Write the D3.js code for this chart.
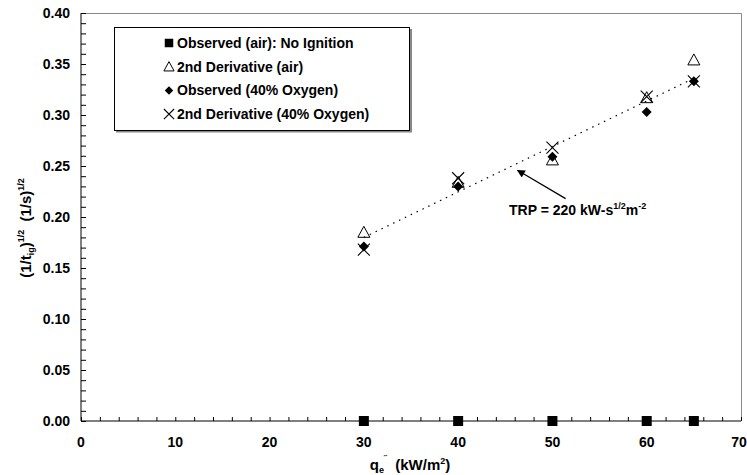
<!DOCTYPE html>
<html><head><meta charset="utf-8">
<script src="https://cdn.jsdelivr.net/npm/d3@7/dist/d3.min.js"></script>
<style>body{margin:0;background:#fff}svg{display:block;font-family:"Liberation Sans",Arial,sans-serif;font-weight:bold}</style>
</head><body><svg id="c" width="747" height="475"></svg>
<script>
const xTicks = [0,10,20,30,40,50,60,70];
const yTicks = [0,0.05,0.10,0.15,0.20,0.25,0.30,0.35,0.40];
const flux = [30,40,50,60,65];
const obsAir = [0,0,0,0,0];
const derivAir = [0.185,0.234,0.256,0.317,0.354];
const obsOx = [0.171,0.230,0.259,0.303,0.333];
const derivOx = [0.168,0.238,0.268,0.318,0.333];
const fitX = [30,65];
const fitY = [0.180,0.336];
const legendLabels = ["Observed (air): No Ignition","2nd Derivative (air)","Observed (40% Oxygen)","2nd Derivative (40% Oxygen)"];

const svg = d3.select("#c");
const m = {l:81,t:13,r:741,b:421};
const x = d3.scaleLinear().domain([0,70]).range([m.l,m.r]);
const y = d3.scaleLinear().domain([0,0.40]).range([m.b,m.t]);

// frame (gray top/right)
svg.append("path").attr("d",`M${m.l},${m.t+0.5}H${m.r+0.5}V${m.b}`).attr("fill","none").attr("stroke","#888").attr("stroke-width",1);

// y axis
const ya = svg.append("g").attr("transform",`translate(${m.l},0)`)
  .call(d3.axisRight(y).tickValues(d3.range(0,0.4001,0.01)).tickSize(5).tickFormat(""));
ya.select(".domain").remove();
ya.selectAll("line").attr("stroke","#000");
svg.append("line").attr("x1",m.l).attr("x2",m.l).attr("y1",m.t).attr("y2",m.b).attr("stroke","#000");
svg.append("g").selectAll("text").data(yTicks).join("text")
  .attr("x",m.l-11).attr("y",d=>y(d)).attr("dy","0.35em").attr("text-anchor","end")
  .attr("font-size",14).text(d=>d.toFixed(2));

// x axis
const xa = svg.append("g").attr("transform",`translate(0,${m.b})`)
  .call(d3.axisTop(x).tickValues(d3.range(0,70.01,2)).tickSize(4).tickFormat(""));
xa.select(".domain").remove();
xa.selectAll("line").attr("stroke","#000");
svg.append("line").attr("x1",m.l).attr("x2",m.r).attr("y1",m.b).attr("y2",m.b).attr("stroke","#000");
svg.append("g").selectAll("text").data(xTicks).join("text")
  .attr("x",d=>Math.min(x(d),739)).attr("y",m.b+26).attr("text-anchor","middle")
  .attr("font-size",14).text(d=>d);

// axis titles
const xt = svg.append("text").attr("x",410).attr("y",470).attr("text-anchor","middle").attr("font-size",15);
xt.append("tspan").text("q");
xt.append("tspan").attr("font-size",9).attr("dy",3).text("e");
xt.append("tspan").attr("font-size",9).attr("dy",-11).text("\u02DD");
xt.append("tspan").attr("dy",8).text("\u00A0\u00A0(kW/m");
xt.append("tspan").attr("font-size",9).attr("dy",-6).text("2");
xt.append("tspan").attr("dy",6).text(")");

const yt = svg.append("text").attr("transform","translate(31,228) rotate(-90)").attr("text-anchor","middle").attr("font-size",15);
yt.append("tspan").text("(1/t");
yt.append("tspan").attr("font-size",9).attr("dy",3).text("ig");
yt.append("tspan").attr("dy",-3).text(")");
yt.append("tspan").attr("font-size",9).attr("dy",-7).text("1/2");
yt.append("tspan").attr("dy",7).text("\u00A0\u00A0(1/s)");
yt.append("tspan").attr("font-size",9).attr("dy",-7).text("1/2");

// fit line
svg.append("line").attr("x1",x(fitX[0])).attr("y1",y(fitY[0])).attr("x2",x(fitX[1])).attr("y2",y(fitY[1]))
  .attr("stroke","#000").attr("stroke-width",1.2).attr("stroke-dasharray","1.5,5");

// marker helpers
function drawSym(g,type,cx,cy,s){
  s = s||1;
  if(type==="square"){g.append("rect").attr("x",cx-5*s).attr("y",cy-5*s).attr("width",10*s).attr("height",10*s).attr("fill","#000");}
  else if(type==="tri"){g.append("path").attr("d",`M${cx},${cy-6*s}L${cx+6*s},${cy+5*s}L${cx-6*s},${cy+5*s}Z`).attr("fill","none").attr("stroke","#000").attr("stroke-width",1);}
  else if(type==="diamond"){g.append("path").attr("d",`M${cx},${cy-5*s}L${cx+5*s},${cy}L${cx},${cy+5*s}L${cx-5*s},${cy}Z`).attr("fill","#000");}
  else if(type==="x"){g.append("path").attr("d",`M${cx-6*s},${cy-6*s}L${cx+6*s},${cy+6*s}M${cx+6*s},${cy-6*s}L${cx-6*s},${cy+6*s}`).attr("stroke","#000").attr("stroke-width",1.1);}
}
const series = [[obsAir,"square"],[derivAir,"tri"],[obsOx,"diamond"],[derivOx,"x"]];
const mg = svg.append("g");
series.forEach(([vals,t])=>{ vals.forEach((v,i)=>drawSym(mg,t,x(flux[i]),y(v))); });

// legend
const lg = svg.append("g");
lg.append("rect").attr("x",116).attr("y",130.5).attr("width",296).attr("height",2).attr("fill","#888");
lg.append("rect").attr("x",410).attr("y",29).attr("width",2).attr("height",103).attr("fill","#888");
lg.append("rect").attr("x",114.5).attr("y",27.5).attr("width",295).attr("height",103).attr("fill","#fff").attr("stroke","#000");
legendLabels.forEach((lab,i)=>{
  const cy = 43 + i*23.7;
  drawSym(lg,series[i][1],169,cy,0.85);
  lg.append("text").attr("x",177).attr("y",cy).attr("dy","0.36em").attr("font-size",14).text(lab);
});

// annotation
svg.append("defs").append("marker").attr("id","ah").attr("viewBox","0 0 10 10").attr("refX",9).attr("refY",5)
  .attr("markerWidth",10).attr("markerHeight",8).attr("markerUnits","userSpaceOnUse").attr("orient","auto")
  .append("path").attr("d","M0,0L10,5L0,10Z").attr("fill","#000");
svg.append("line").attr("x1",x(51.4)).attr("y1",y(0.218)).attr("x2",x(46.3)).attr("y2",y(0.2458))
  .attr("stroke","#000").attr("stroke-width",1.2).attr("marker-end","url(#ah)");
const at = svg.append("text").attr("x",x(45.4)).attr("y",y(0.2017)).attr("font-size",14);
at.append("tspan").text("TRP = 220 kW-s");
at.append("tspan").attr("font-size",9).attr("dy",-6).text("1/2");
at.append("tspan").attr("dy",6).text("m");
at.append("tspan").attr("font-size",9).attr("dy",-6).text("-2");
</script></body></html>
